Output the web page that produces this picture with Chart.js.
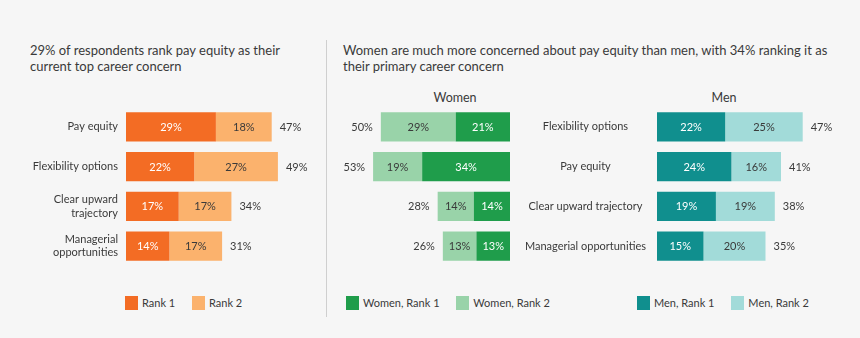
<!DOCTYPE html>
<html>
<head>
  <meta charset="utf-8">
  <title>Career concerns</title>
  <script src="https://cdn.jsdelivr.net/npm/chart.js@4.4.0/dist/chart.umd.min.js"></script>
  <style>
    body { margin: 0; background: #f6f6f6; font-family: Lato, "Open Sans", sans-serif; color: #3a3a3a; }
    #page { position: relative; width: 860px; height: 338px; overflow: hidden; }
    .title { position: absolute; font-size: 13px; line-height: 16px; }
    .sub { position: absolute; font-size: 12.5px; transform: translateX(-50%); top: 90px; }
    .divider { position: absolute; left: 326px; top: 40px; width: 1px; height: 277px; background: #cfcfcf; }
    canvas { position: absolute; }
    .legend { position: absolute; top: 296px; font-size: 11px; line-height: 14px; white-space: nowrap; }
    .legend span.box { display: inline-block; width: 13px; height: 14px; vertical-align: top; margin-right: 4px; }
    .legend span.item { margin-right: 14px; }
  </style>
</head>
<body>
<div id="page">
  <div class="title" style="left:30px; top:42px;">29% of respondents rank pay equity as their<br>current top career concern</div>
  <div class="title" style="left:343px; top:42px;">Women are much more concerned about pay equity than men, with 34% ranking it as<br>their primary career concern</div>
  <div class="sub" style="left:455px;">Women</div>
  <div class="sub" style="left:724px;">Men</div>
  <div class="divider"></div>

  <canvas id="allChart" width="326" height="159" style="left:0; top:107px;"></canvas>
  <canvas id="womenChart" width="185" height="159" style="left:328px; top:107px;"></canvas>
  <canvas id="menChart" width="345" height="159" style="left:515px; top:107px;"></canvas>

  <div class="legend" style="left:125px;">
    <span class="item"><span class="box" style="background:#f36c24"></span>Rank 1</span>
    <span class="item"><span class="box" style="background:#fbb26d"></span>Rank 2</span>
  </div>
  <div class="legend" style="left:346px;">
    <span class="item"><span class="box" style="background:#1f9d4b"></span>Women, Rank 1</span>
    <span class="item"><span class="box" style="background:#99d3a9"></span>Women, Rank 2</span>
  </div>
  <div class="legend" style="left:637px;">
    <span class="item"><span class="box" style="background:#108f8e"></span>Men, Rank 1</span>
    <span class="item"><span class="box" style="background:#a2dbd9"></span>Men, Rank 2</span>
  </div>
</div>

<script>
  // data
  const allCategories = [['Pay equity'], ['Flexibility options'], ['Clear upward', 'trajectory'], ['Managerial', 'opportunities']];
  const allRank1 = [29, 22, 17, 14];
  const allRank2 = [18, 27, 17, 17];
  const allTotals = [47, 49, 34, 31];

  const womenCategories = ['Pay equity', 'Flexibility options', 'Clear upward trajectory', 'Managerial opportunities'];
  const womenRank1 = [21, 34, 14, 13];
  const womenRank2 = [29, 19, 14, 13];
  const womenTotals = [50, 53, 28, 26];

  const menCategories = ['Flexibility options', 'Pay equity', 'Clear upward trajectory', 'Managerial opportunities'];
  const menRank1 = [22, 24, 19, 15];
  const menRank2 = [25, 16, 19, 20];
  const menTotals = [47, 41, 38, 35];

  const FONT = 'Lato, "Open Sans", sans-serif';
  const TEXT = '#3a3a3a';

  // draws the % inside each bar and the total at the end of the stack
  const barLabels = {
    id: 'barLabels',
    afterDatasetsDraw(chart, args, opts) {
      const ctx = chart.ctx;
      ctx.save();
      ctx.font = '11px ' + FONT;
      ctx.textBaseline = 'middle';
      chart.data.datasets.forEach((ds, di) => {
        const meta = chart.getDatasetMeta(di);
        meta.data.forEach((bar, i) => {
          ctx.fillStyle = di === 0 ? '#ffffff' : TEXT;
          ctx.textAlign = 'center';
          ctx.fillText(ds.data[i] + '%', (bar.x + bar.base) / 2, bar.y + 0.5);
        });
      });
      const last = chart.getDatasetMeta(chart.data.datasets.length - 1);
      ctx.fillStyle = TEXT;
      last.data.forEach((bar, i) => {
        if (opts.reverse) {
          ctx.textAlign = 'right';
          ctx.fillText(opts.totals[i] + '%', bar.x - 8, bar.y + 0.5);
        } else {
          ctx.textAlign = 'left';
          ctx.fillText(opts.totals[i] + '%', bar.x + 8, bar.y + 0.5);
        }
      });
      ctx.restore();
    }
  };

  function makeChart(id, cats, r1, r2, totals, c1, c2, o) {
    return new Chart(document.getElementById(id), {
      type: 'bar',
      data: {
        labels: cats,
        datasets: [
          { label: 'Rank 1', data: r1, backgroundColor: c1, barPercentage: 0.73, categoryPercentage: 1 },
          { label: 'Rank 2', data: r2, backgroundColor: c2, barPercentage: 0.73, categoryPercentage: 1 }
        ]
      },
      options: {
        indexAxis: 'y',
        responsive: false,
        animation: false,
        layout: { padding: o.padding },
        plugins: {
          legend: { display: false },
          tooltip: { enabled: false },
          barLabels: { totals: totals, reverse: !!o.reverse }
        },
        scales: {
          x: { stacked: true, min: 0, max: 60, reverse: !!o.reverse, display: false },
          y: {
            stacked: true,
            display: o.showY,
            grid: { display: false, drawTicks: false },
            border: { display: false },
            ticks: {
              color: TEXT,
              font: { family: FONT, size: 11, lineHeight: 1.2 },
              padding: o.tickPad,
              crossAlign: o.crossAlign
            },
            afterFit: s => {
              if (o.yWidth) s.width = o.yWidth;
              // keep the label half-heights from shrinking the plot area
              s.paddingTop = 0;
              s.paddingBottom = 0;
            }
          }
        }
      },
      plugins: [barLabels]
    });
  }

  makeChart('allChart', allCategories, allRank1, allRank2, allTotals, '#f36c24', '#fbb26d',
    { padding: { left: 0, right: 14, top: 0, bottom: 0 }, showY: true, yWidth: 126, tickPad: 8, crossAlign: 'near' });

  makeChart('womenChart', womenCategories, womenRank1, womenRank2, womenTotals, '#1f9d4b', '#99d3a9',
    { padding: { left: 27, right: 3, top: 0, bottom: 0 }, showY: false, reverse: true });

  makeChart('menChart', menCategories, menRank1, menRank2, menTotals, '#108f8e', '#a2dbd9',
    { padding: { left: 0, right: 17, top: 0, bottom: 0 }, showY: true, yWidth: 142, tickPad: 11, crossAlign: 'center' });
</script>
</body>
</html>
